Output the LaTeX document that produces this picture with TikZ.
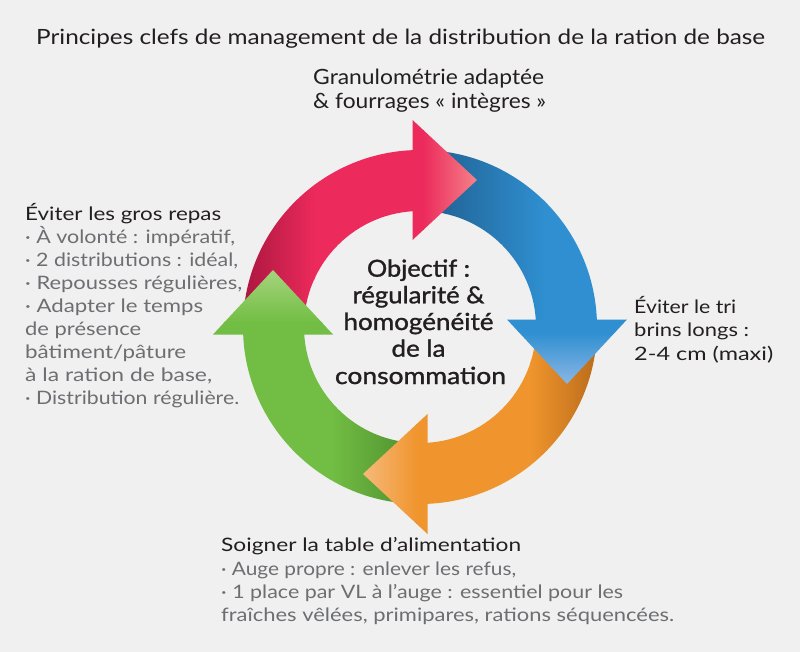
\documentclass[tikz,border=0pt]{standalone}
\usepackage{fontspec}
\usepackage{graphicx}
\setmainfont{Lato}
\newfontfamily\midfont{Lato}[FakeBold=1.2]
\newcommand\Wd[2]{\resizebox{#1pt}{\height}{#2}}
\definecolor{bg}{HTML}{F0F0F0}
\definecolor{ink}{HTML}{231F20}
\definecolor{txtgray}{HTML}{6D6E71}
\definecolor{pinkdark}{HTML}{A8163F}
\definecolor{pinkmain}{HTML}{EC2A5B}
\definecolor{pinklight}{HTML}{F5838A}
\definecolor{bluedark}{HTML}{205F90}
\definecolor{bluemain}{HTML}{2F8FD0}
\definecolor{bluelight}{HTML}{8CB7E6}
\definecolor{orangedark}{HTML}{B86A1A}
\definecolor{orangemain}{HTML}{F0952D}
\definecolor{orangelight}{HTML}{F6BA7C}
\definecolor{greendark}{HTML}{4A8A2C}
\definecolor{greenmain}{HTML}{72BE44}
\definecolor{greenlight}{HTML}{A7D47E}
\tikzset{
  lbl/.style={anchor=base west,inner sep=0pt,text=ink,font=\fontsize{18.5}{22}\selectfont},
  item/.style={lbl,text=txtgray},
  toplbl/.style={lbl,font=\fontsize{21}{24}\selectfont},
  mid/.style={anchor=base,inner sep=0pt,text=ink,font=\midfont\fontsize{23.5}{26}\selectfont}
}
\begin{document}
\begin{tikzpicture}[x=1pt,y=1pt]
\useasboundingbox (0,0) rectangle (800,-652);
\fill[bg] (0,0) rectangle (800,-652);

\begin{scope}[shift={(420,-327)}]
  % ---------- bodies ----------
  % pink (top-left quadrant)
  \begin{scope}
    \clip (180:177) arc[start angle=180,end angle=90,radius=177] -- (90:116) arc[start angle=90,end angle=180,radius=116] -- cycle;
    \shade[left color=pinkdark,right color=pinkmain] (-180,-5) rectangle (-105,180);
    \fill[pinkmain] (-106,-5) rectangle (5,180);
  \end{scope}
  % blue (top-right quadrant)
  \begin{scope}
    \clip (90:177) arc[start angle=90,end angle=0,radius=177] -- (0:116) arc[start angle=0,end angle=90,radius=116] -- cycle;
    \shade[left color=bluedark,right color=bluemain] (5,-5) rectangle (125,180);
    \fill[bluemain] (124,-5) rectangle (180,180);
  \end{scope}
  % orange (bottom-right quadrant)
  \begin{scope}
    \clip (0:177) arc[start angle=0,end angle=-90,radius=177] -- (-90:116) arc[start angle=-90,end angle=0,radius=116] -- cycle;
    \shade[left color=orangemain,right color=orangedark] (110,5) rectangle (180,-180);
    \fill[orangemain] (-5,5) rectangle (111,-180);
  \end{scope}
  % green (bottom-left quadrant)
  \begin{scope}
    \clip (-90:177) arc[start angle=-90,end angle=-180,radius=177] -- (180:116) arc[start angle=180,end angle=270,radius=116] -- cycle;
    \shade[left color=greenmain,right color=greendark] (-90,5) rectangle (5,-180);
    \fill[greenmain] (-180,5) rectangle (-89,-180);
  \end{scope}

  % ---------- heads ----------
  \begin{scope}
    \clip (-7.5,207) -- (57,147) -- (-7.5,87) -- cycle;
    \fill[pinkmain] (-10,80) rectangle (4,210);
    \shade[left color=pinkmain,right color=pinklight] (3,80) rectangle (58,210);
  \end{scope}
  \begin{scope}
    \clip (207,7.5) -- (147,-57) -- (87,7.5) -- cycle;
    \fill[bluemain] (80,10) rectangle (210,-6);
    \shade[top color=bluemain,bottom color=bluelight] (80,-5) rectangle (210,-58);
  \end{scope}
  \begin{scope}
    \clip (7.5,-207) -- (-57,-147) -- (7.5,-87) -- cycle;
    \fill[orangemain] (10,-80) rectangle (-4,-210);
    \shade[left color=orangelight,right color=orangemain] (-58,-80) rectangle (-3,-210);
  \end{scope}
  \begin{scope}
    \clip (-207,-7.5) -- (-147,57) -- (-87,-7.5) -- cycle;
    \fill[greenmain] (-210,-10) rectangle (-80,6);
    \shade[bottom color=greenmain,top color=greenlight] (-210,5) rectangle (-80,58);
  \end{scope}
\end{scope}

% ---------- texts ----------
\node[toplbl] (title) at (36,-45) {\Wd{729}{Principes clefs de management de la distribution de la ration de base}};
\node[toplbl] (g1) at (313,-85) {\Wd{231}{Granulométrie adaptée}};
\node[toplbl] (g2) at (313,-108.5) {\Wd{233}{\& fourrages « intègres »}};

\node[lbl]  (l0) at (25,-220.7) {\Wd{196}{Éviter les gros repas}};
\node[item] (l1) at (25,-243.7) {\Wd{210}{· À volonté : impératif,}};
\node[item] (l2) at (25,-266.7) {\Wd{213}{· 2 distributions : idéal,}};
\node[item] (l3) at (25,-289.7) {\Wd{217}{· Repousses régulières,}};
\node[item] (l4) at (25,-312.7) {\Wd{178}{· Adapter le temps}};
\node[item] (l5) at (25,-335.7) {\Wd{116}{de présence}};
\node[item] (l6) at (25,-358.7) {\Wd{161}{bâtiment/pâture}};
\node[item] (l7) at (25,-381.7) {\Wd{187}{à la ration de base,}};
\node[item] (l8) at (25,-404.7) {\Wd{214}{· Distribution régulière.}};

\node[lbl] (r1) at (634,-313.3) {\Wd{102}{Éviter le tri}};
\node[lbl] (r2) at (634,-336.7) {\Wd{115}{brins longs :}};
\node[lbl] (r3) at (634,-360) {\Wd{139}{2-4 cm (maxi)}};

\node[lbl]  (b0) at (221,-551.7) {\Wd{300}{Soigner la table d’alimentation}};
\node[item] (b1) at (221,-575) {\Wd{295}{· Auge propre : enlever les refus,}};
\node[item] (b2) at (221,-598.5) {\Wd{402}{· 1 place par VL à l’auge : essentiel pour les}};
\node[item] (b3) at (221,-621.7) {\Wd{453}{fraîches vêlées, primipares, rations séquencées.}};

\node[mid] (c1) at (418.5,-276.7) {\Wd{103}{Objectif :}};
\node[mid] (c2) at (418.5,-303.3) {\Wd{132}{régularité \&}};
\node[mid] (c3) at (418.5,-330) {\Wd{150}{homogénéité}};
\node[mid] (c4) at (418.5,-356.7) {\Wd{54}{de la}};
\node[mid] (c5) at (420.5,-384) {\Wd{171}{consommation}};
\end{tikzpicture}
\end{document}
